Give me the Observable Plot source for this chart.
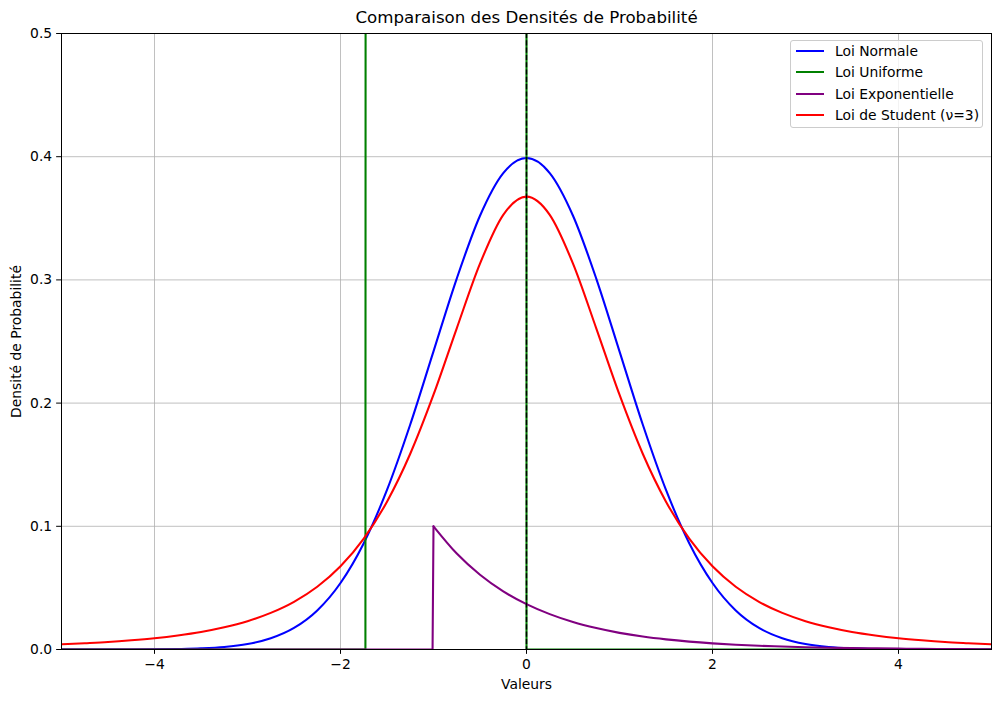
<!DOCTYPE html>
<html>
<head>
<meta charset="utf-8">
<script src="https://cdn.jsdelivr.net/npm/d3@7"></script>
<script src="https://cdn.jsdelivr.net/npm/@observablehq/plot@0.6"></script>
<style>
  body { margin: 0; background: white; font-family: "DejaVu Sans", sans-serif; }
  #wrap { position: relative; width: 1001px; height: 702px; }
  #legend { position: absolute; left: 790px; top: 40px; width: 191px; height: 86px;
    border: 1px solid #cccccc; border-radius: 3px; background: rgba(255,255,255,0.8);
    font-size: 13.89px; color: #000; }
  .row { position: absolute; left: 0; height: 20px; width: 100%; }
  .row .sw { position: absolute; left: 5px; width: 28px; height: 2px; top: 9px; }
  .row .lb { position: absolute; left: 44px; top: 0px; white-space: nowrap; line-height: 20px; }
</style>
</head>
<body>
<div id="wrap"></div>
<script>
// Sample positions (x values)
const xs = [-5,-4.75,-4.5,-4.25,-4,-3.75,-3.5,-3.25,-3,-2.75,-2.5,-2.25,-2,-1.75,-1.5,-1.25,-1,-0.75,-0.5,-0.25,0,
            0.25,0.5,0.75,1,1.25,1.5,1.75,2,2.25,2.5,2.75,3,3.25,3.5,3.75,4,4.25,4.5,4.75,5];
// Loi Normale
const normalY = [0.0000,0.0000,0.0000,0.0000,0.0001,0.0004,0.0009,0.0020,0.0044,0.0091,0.0175,0.0317,0.0540,0.0863,0.1295,0.1826,0.2420,0.3011,0.3521,0.3867,0.3989,
                 0.3867,0.3521,0.3011,0.2420,0.1826,0.1295,0.0863,0.0540,0.0317,0.0175,0.0091,0.0044,0.0020,0.0009,0.0004,0.0001,0.0000,0.0000,0.0000,0.0000];
// Loi de Student (nu=3)
const studentY = [0.0042,0.0051,0.0061,0.0075,0.0092,0.0114,0.0142,0.0180,0.0230,0.0297,0.0387,0.0509,0.0675,0.0900,0.1200,0.1589,0.2068,0.2607,0.3132,0.3528,0.3676,
                  0.3528,0.3132,0.2607,0.2068,0.1589,0.1200,0.0900,0.0675,0.0509,0.0387,0.0297,0.0230,0.0180,0.0142,0.0114,0.0092,0.0075,0.0061,0.0051,0.0042];
// Loi Uniforme
const uniformX = [-5,-1.732,-1.73,0,0,5];
const uniformY = [0,0,0.577,0.577,0,0];
// Loi Exponentielle: flat part + jump, then decay
const expFlatX = [-5,-1.01,-1];
const expFlatY = [0,0,0.1];
const expX = [-1,-0.75,-0.5,-0.25,0,0.25,0.5,0.75,1,1.25,1.5,1.75,2,2.25,2.5,2.75,3,3.25,3.5,3.75,4,4.25,4.5,4.75,5];
const expY = [0.1000,0.0779,0.0607,0.0472,0.0368,0.0287,0.0223,0.0174,0.0135,0.0105,0.0082,0.0064,0.0050,0.0039,0.0030,0.0024,0.0018,0.0014,0.0011,0.0009,0.0007,0.0005,0.0004,0.0003,0.0002];

const xTicks = [-4,-2,0,2,4];
const yTicks = [0,0.1,0.2,0.3,0.4,0.5];
const series = [
  {name: "Loi Normale", color: "#0000ff"},
  {name: "Loi Uniforme", color: "#008000"},
  {name: "Loi Exponentielle", color: "#800080"},
  {name: "Loi de Student (ν=3)", color: "#ff0000"}
];

const pts = (X, Y) => X.map((x, i) => ({x, y: Y[i]}));
const minus = d => d < 0 ? "\u2212" + Math.abs(d) : String(d);

const chart = Plot.plot({
  width: 1001,
  height: 702,
  marginLeft: 61,
  marginRight: 10,
  marginTop: 33,
  marginBottom: 53,
  style: {fontFamily: "DejaVu Sans, sans-serif", fontSize: "13.89px", color: "black", background: "white"},
  x: {domain: [-5, 5], ticks: xTicks, tickFormat: minus, label: null, tickSize: 4.86, tickPadding: 4.5},
  y: {domain: [0, 0.5], ticks: yTicks, tickFormat: d3.format(".1f"), label: null, tickSize: 4.86, tickPadding: 4.5},
  marks: [
    Plot.gridX(xTicks, {stroke: "#b0b0b0", strokeOpacity: 1, strokeWidth: 0.8}),
    Plot.gridY(yTicks, {stroke: "#b0b0b0", strokeOpacity: 1, strokeWidth: 0.8}),
    Plot.line(pts(xs, normalY), {x: "x", y: "y", stroke: series[0].color, strokeWidth: 2.08, curve: "monotone-x", clip: true}),
    Plot.line(pts(uniformX, uniformY), {x: "x", y: "y", stroke: series[1].color, strokeWidth: 2.08, clip: true}),
    Plot.line(pts(expFlatX, expFlatY), {x: "x", y: "y", stroke: series[2].color, strokeWidth: 2.08, clip: true}),
    Plot.line(pts(expX, expY), {x: "x", y: "y", stroke: series[2].color, strokeWidth: 2.08, curve: "monotone-x", clip: true}),
    Plot.line(pts(xs, studentY), {x: "x", y: "y", stroke: series[3].color, strokeWidth: 2.08, curve: "monotone-x", clip: true}),
    Plot.ruleX([0], {stroke: "black", strokeWidth: 1.39, strokeDasharray: "5.1,2.2"}),
    Plot.axisX({ticks: xTicks, tickFormat: minus, tickSize: 4.86, tickPadding: 4.5, label: null, stroke: "black"}),
    Plot.axisY({ticks: yTicks, tickFormat: d3.format(".1f"), tickSize: 4.86, tickPadding: 4.5, label: null, stroke: "black"}),
    Plot.frame({stroke: "black", strokeWidth: 1}),
    Plot.text(["Comparaison des Densités de Probabilité"], {text: d => d, frameAnchor: "top", dy: -16, lineAnchor: "middle", textAnchor: "middle", fontSize: 16.67}),
    Plot.text(["Valeurs"], {text: d => d, frameAnchor: "bottom", dy: 35, lineAnchor: "middle", textAnchor: "middle", fontSize: 13.89}),
    Plot.text(["Densité de Probabilité"], {text: d => d, frameAnchor: "left", dx: -45, rotate: -90, lineAnchor: "middle", textAnchor: "middle", fontSize: 13.89})
  ]
});

const wrap = document.getElementById("wrap");
wrap.appendChild(chart);

const legend = document.createElement("div");
legend.id = "legend";
series.forEach((s, i) => {
  const row = document.createElement("div");
  row.className = "row";
  row.style.top = (i * 21.3) + "px";
  const sw = document.createElement("div");
  sw.className = "sw";
  sw.style.background = s.color;
  const lb = document.createElement("div");
  lb.className = "lb";
  lb.textContent = s.name;
  row.appendChild(sw);
  row.appendChild(lb);
  legend.appendChild(row);
});
wrap.appendChild(legend);
</script>
</body>
</html>
